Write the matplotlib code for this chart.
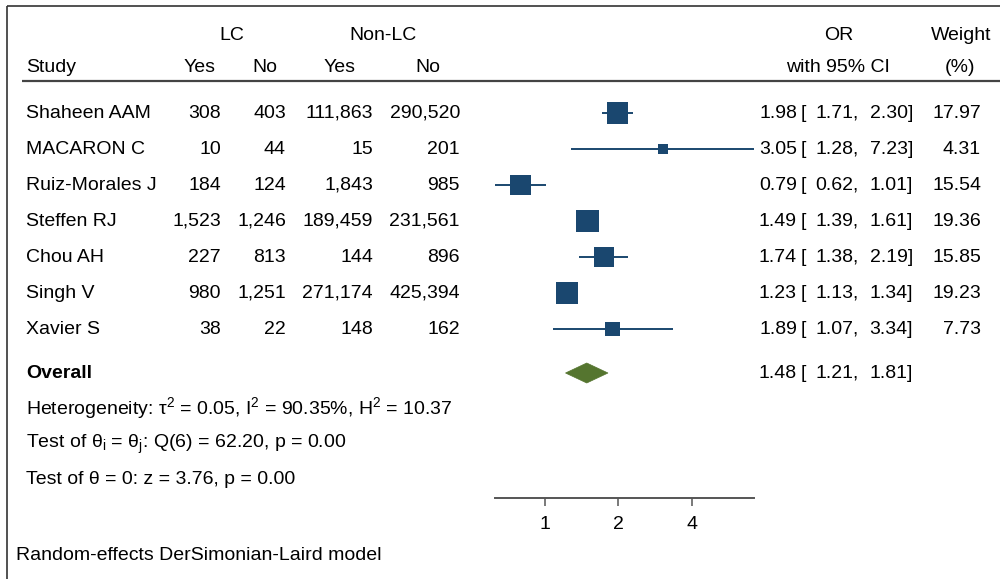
import matplotlib
matplotlib.use("Agg")
import matplotlib.pyplot as plt
from matplotlib.patches import Polygon

plt.rcParams['font.family'] = ['Liberation Sans', 'DejaVu Sans']
plt.rcParams['mathtext.fontset'] = 'custom'
plt.rcParams['mathtext.rm'] = 'Liberation Sans'
plt.rcParams['mathtext.it'] = 'Liberation Sans:italic'
plt.rcParams['mathtext.bf'] = 'Liberation Sans:bold'

studies = ["Shaheen AAM", "MACARON C", "Ruiz-Morales J", "Steffen RJ",
           "Chou AH", "Singh V", "Xavier S"]
lc_yes = [308, 10, 184, 1523, 227, 980, 38]
lc_no = [403, 44, 124, 1246, 813, 1251, 22]
nonlc_yes = [111863, 15, 1843, 189459, 144, 271174, 148]
nonlc_no = [290520, 201, 985, 231561, 896, 425394, 162]
or_est = [1.98, 3.05, 0.79, 1.49, 1.74, 1.23, 1.89]
ci_lo = [1.71, 1.28, 0.62, 1.39, 1.38, 1.13, 1.07]
ci_hi = [2.30, 7.23, 1.01, 1.61, 2.19, 1.34, 3.34]
weight = [17.97, 4.31, 15.54, 19.36, 15.85, 19.23, 7.73]
overall_est, overall_lo, overall_hi = 1.48, 1.21, 1.81
xticks = [1, 2, 4]

navy = '#1a476f'
green = '#55752f'
fs = 14

W, H = 1000, 579


def row(py):
    # pixel row -> row units (study rows are 0..6)
    return (py - 113) / 36.0


def ci_text(y, est, lo, hi):
    ax.text(797, y, f"{est:.2f}", ha='right', va='center', fontsize=fs)
    ax.text(801, y, "[", ha='left', va='center', fontsize=fs)
    ax.text(859, y, f"{lo:.2f},", ha='right', va='center', fontsize=fs)
    ax.text(913, y, f"{hi:.2f}]", ha='right', va='center', fontsize=fs)


fig = plt.figure(figsize=(W / 100, H / 100), dpi=100)
ax = fig.add_axes([0, 0, 1, 1])
ax.set_xlim(0, W)
ax.set_ylim(row(H), row(0))
ax.axis('off')

# frame and header rule
ax.plot([7, 7], [row(6), row(H)], color='#333333', lw=1.2, solid_capstyle='butt')
ax.plot([7, W], [row(6), row(6)], color='#333333', lw=1.2, solid_capstyle='butt')
ax.plot([22, W], [row(81), row(81)], color='#444444', lw=1.6, solid_capstyle='butt')

# headers
hy1, hy2 = row(36), row(67)
ax.text(232, hy1, "LC", ha='center', va='center', fontsize=fs)
ax.text(383, hy1, "Non-LC", ha='center', va='center', fontsize=fs)
ax.text(26, hy2, "Study", ha='left', va='center', fontsize=fs)
for xc, s in [(200, "Yes"), (265, "No"), (340, "Yes"), (428, "No")]:
    ax.text(xc, hy2, s, ha='center', va='center', fontsize=fs)
ax.text(839, hy1, "OR", ha='center', va='center', fontsize=fs)
ax.text(838, hy2, "with 95% CI", ha='center', va='center', fontsize=fs)
ax.text(961, hy1, "Weight", ha='center', va='center', fontsize=fs)
ax.text(960, hy2, "(%)", ha='center', va='center', fontsize=fs)

# study rows
for i, name in enumerate(studies):
    ax.text(26, i, name, ha='left', va='center', fontsize=fs)
    ax.text(221, i, f"{lc_yes[i]:,}", ha='right', va='center', fontsize=fs)
    ax.text(286, i, f"{lc_no[i]:,}", ha='right', va='center', fontsize=fs)
    ax.text(373, i, f"{nonlc_yes[i]:,}", ha='right', va='center', fontsize=fs)
    ax.text(460, i, f"{nonlc_no[i]:,}", ha='right', va='center', fontsize=fs)
    ci_text(i, or_est[i], ci_lo[i], ci_hi[i])
    ax.text(981, i, f"{weight[i]:.2f}", ha='right', va='center', fontsize=fs)

oy = row(373)
ax.text(26, oy, "Overall", ha='left', va='center', fontsize=fs, fontweight='bold')
ci_text(oy, overall_est, overall_lo, overall_hi)

ax.text(26, row(408), r"Heterogeneity: τ$^2$ = 0.05, I$^2$ = 90.35%, H$^2$ = 10.37",
        ha='left', va='center', fontsize=fs)
ax.text(26, row(444), r"Test of θ$_\mathrm{i}$ = θ$_\mathrm{j}$: Q(6) = 62.20, p = 0.00",
        ha='left', va='center', fontsize=fs)
ax.text(26, row(480), "Test of θ = 0: z = 3.76, p = 0.00",
        ha='left', va='center', fontsize=fs)
ax.text(16, row(556), "Random-effects DerSimonian-Laird model",
        ha='left', va='center', fontsize=fs)

# forest panel
left, right, top, bottom = 495, 754, 81, 498
fx = fig.add_axes([left / W, 1 - bottom / H, (right - left) / W, (bottom - top) / H])
fx.set_xscale('log', base=2)
fx.set_xlim(0.62, 7.23)
fx.set_ylim(row(bottom), row(top))
fx.patch.set_alpha(0)
for side in ['top', 'right', 'left']:
    fx.spines[side].set_visible(False)
fx.spines['bottom'].set_color('#555555')
fx.spines['bottom'].set_linewidth(1.4)
fx.set_yticks([])
fx.set_xticks(xticks)
fx.set_xticklabels([str(t) for t in xticks])
fx.xaxis.set_minor_locator(matplotlib.ticker.NullLocator())
fx.tick_params(axis='x', length=6, width=1.1, color='#555555', labelsize=fs, pad=7)

ys = list(range(len(studies)))
fx.hlines(ys, ci_lo, ci_hi, color=navy, lw=1.4, clip_on=False)
fx.scatter(or_est, ys, s=[13.6 * w for w in weight], marker='s', color=navy,
           linewidths=0, zorder=3, clip_on=False)

dh = 10 / 36.0
diamond = Polygon([(overall_lo, oy), (overall_est, oy - dh), (overall_hi, oy),
                   (overall_est, oy + dh)], closed=True, facecolor=green,
                  edgecolor=green, lw=0.5, clip_on=False)
fx.add_patch(diamond)

fig.savefig("out.png", dpi=100)
